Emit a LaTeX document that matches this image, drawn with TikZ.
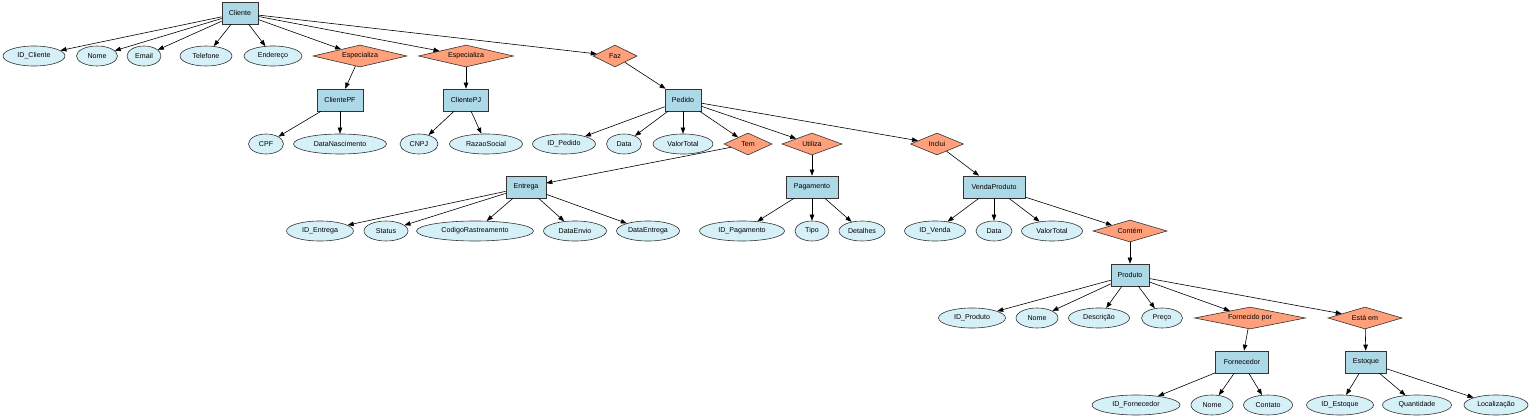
\documentclass[tikz,border=0pt]{standalone}
\usepackage{fontspec}
\setmainfont{Liberation Sans}
\usetikzlibrary{shapes.geometric, arrows.meta}

\definecolor{entfill}{RGB}{173,216,230}
\definecolor{attfill}{RGB}{214,240,248}
\definecolor{relfill}{RGB}{255,160,122}

\begin{document}
\begin{tikzpicture}[x=1pt, y=-1pt,
	font=\fontsize{7.1}{8.5}\selectfont,
	line width=0.6pt,
	>={Triangle[length=6pt,width=4.5pt]},
	entity/.style={rectangle, draw=black!80, fill=entfill, minimum height=22pt, inner sep=1pt},
	attrib/.style={ellipse, draw=black!80, fill=attfill, minimum height=20pt, inner sep=1pt},
	relat/.style={diamond, draw=black!80, fill=relfill, aspect=4, inner sep=0pt, minimum height=22pt}]
	\useasboundingbox (0,0) rectangle (1536,419);

	% Draw the entities
	\node[entity, minimum width=36pt] (cliente) at (240,13) {Cliente};
	\node[entity, minimum width=46pt] (clientepf) at (340,100) {ClientePF};
	\node[entity, minimum width=45pt] (clientepj) at (466,100) {ClientePJ};
	\node[entity, minimum width=36pt] (pedido) at (683,100) {Pedido};
	\node[entity, minimum width=40pt] (entrega) at (526,187) {Entrega};
	\node[entity, minimum width=52pt] (pagamento) at (812,187) {Pagamento};
	\node[entity, minimum width=62pt] (vendaproduto) at (994,187) {VendaProduto};
	\node[entity, minimum width=38pt] (produto) at (1130,275) {Produto};
	\node[entity, minimum width=53pt] (fornecedor) at (1242,362) {Fornecedor};
	\node[entity, minimum width=41pt] (estoque) at (1366,362) {Estoque};

	% Draw the relationships
	\node[relat, minimum width=94pt] (especializapf) at (360,56) {Especializa};
	\node[relat, minimum width=95pt] (especializapj) at (466,56) {Especializa};
	\node[relat, minimum width=44pt] (faz) at (615,56) {Faz};
	\node[relat, minimum width=48pt] (tem) at (748,144) {Tem};
	\node[relat, minimum width=60pt] (utiliza) at (812,144) {Utiliza};
	\node[relat, minimum width=53pt] (inclui) at (937,144) {Inclui};
	\node[relat, minimum width=74pt] (contem) at (1130,231) {Contém};
	\node[relat, minimum width=111pt] (fornecidopor) at (1250,318) {Fornecido por};
	\node[relat, minimum width=74pt] (estaem) at (1365,318) {Está em};

	% Draw the attributes
	\node[attrib, minimum width=62pt] (idcliente) at (34,56) {ID\_Cliente};
	\node[attrib, minimum width=41pt] (nomecliente) at (97,56) {Nome};
	\node[attrib, minimum width=34pt] (email) at (144,56) {Email};
	\node[attrib, minimum width=52pt] (telefone) at (206,56) {Telefone};
	\node[attrib, minimum width=58pt] (endereco) at (273,56) {Endereço};

	\node[attrib, minimum width=35pt] (cpf) at (266,144) {CPF};
	\node[attrib, minimum width=93pt] (datanasc) at (340,144) {DataNascimento};
	\node[attrib, minimum width=38pt] (cnpj) at (419,144) {CNPJ};
	\node[attrib, minimum width=73pt] (razaosocial) at (486,144) {RazaoSocial};
	\node[attrib, minimum width=63pt] (idpedido) at (564,144) {ID\_Pedido};
	\node[attrib, minimum width=35pt] (datapedido) at (624,144) {Data};
	\node[attrib, minimum width=60pt] (valorpedido) at (683,144) {ValorTotal};

	\node[attrib, minimum width=67pt] (identrega) at (320,231) {ID\_Entrega};
	\node[attrib, minimum width=44pt] (status) at (386,231) {Status};
	\node[attrib, minimum width=117pt] (codigo) at (475,231) {CodigoRastreamento};
	\node[attrib, minimum width=63pt] (dataenvio) at (575,231) {DataEnvio};
	\node[attrib, minimum width=63pt] (dataentrega) at (648,231) {DataEntrega};
	\node[attrib, minimum width=85pt] (idpagamento) at (742,231) {ID\_Pagamento};
	\node[attrib, minimum width=34pt] (tipo) at (812,231) {Tipo};
	\node[attrib, minimum width=46pt] (detalhes) at (862,231) {Detalhes};
	\node[attrib, minimum width=61pt] (idvenda) at (935,231) {ID\_Venda};
	\node[attrib, minimum width=36pt] (datavenda) at (994,231) {Data};
	\node[attrib, minimum width=61pt] (valorvenda) at (1052,231) {ValorTotal};

	\node[attrib, minimum width=67pt] (idproduto) at (972,318) {ID\_Produto};
	\node[attrib, minimum width=42pt] (nomeproduto) at (1037,318) {Nome};
	\node[attrib, minimum width=61pt] (descricao) at (1099,318) {Descrição};
	\node[attrib, minimum width=41pt] (preco) at (1162,318) {Preço};

	\node[attrib, minimum width=88pt] (idfornecedor) at (1136,405) {ID\_Fornecedor};
	\node[attrib, minimum width=42pt] (nomefornecedor) at (1212,405) {Nome};
	\node[attrib, minimum width=49pt] (contato) at (1268,405) {Contato};
	\node[attrib, minimum width=67pt] (idestoque) at (1340,405) {ID\_Estoque};
	\node[attrib, minimum width=69pt] (quantidade) at (1417,405) {Quantidade};
	\node[attrib, minimum width=64pt] (localizacao) at (1496,405) {Localização};

	% Draw the connectors
	\foreach \a in {idcliente, nomecliente, email, telefone, endereco, especializapf, especializapj, faz}
		\draw[->] (cliente) -- (\a);
	\draw[->] (especializapf) -- (clientepf);
	\draw[->] (especializapj) -- (clientepj);
	\draw[->] (faz) -- (pedido);
	\draw[->] (clientepf) -- (cpf);
	\draw[->] (clientepf) -- (datanasc);
	\draw[->] (clientepj) -- (cnpj);
	\draw[->] (clientepj) -- (razaosocial);
	\foreach \a in {idpedido, datapedido, valorpedido, tem, utiliza, inclui}
		\draw[->] (pedido) -- (\a);
	\draw[->] (tem) -- (entrega);
	\draw[->] (utiliza) -- (pagamento);
	\draw[->] (inclui) -- (vendaproduto);
	\foreach \a in {identrega, status, codigo, dataenvio, dataentrega}
		\draw[->] (entrega) -- (\a);
	\foreach \a in {idpagamento, tipo, detalhes}
		\draw[->] (pagamento) -- (\a);
	\foreach \a in {idvenda, datavenda, valorvenda, contem}
		\draw[->] (vendaproduto) -- (\a);
	\draw[->] (contem) -- (produto);
	\foreach \a in {idproduto, nomeproduto, descricao, preco, fornecidopor, estaem}
		\draw[->] (produto) -- (\a);
	\draw[->] (fornecidopor) -- (fornecedor);
	\draw[->] (estaem) -- (estoque);
	\foreach \a in {idfornecedor, nomefornecedor, contato}
		\draw[->] (fornecedor) -- (\a);
	\foreach \a in {idestoque, quantidade, localizacao}
		\draw[->] (estoque) -- (\a);
\end{tikzpicture}
\end{document}
